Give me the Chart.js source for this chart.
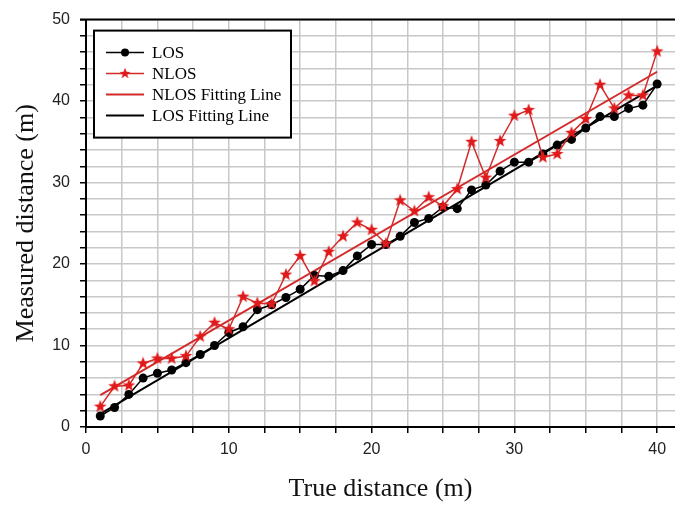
<!DOCTYPE html>
<html><head><meta charset="utf-8">
<script src="https://cdn.jsdelivr.net/npm/chart.js@4"></script>
<style>html,body{margin:0;padding:0;background:#fff}canvas{display:block}</style>
</head><body>
<canvas id="c" width="675" height="508"></canvas>
<script>
// True distance (m)
const trueDistance = [1,2,3,4,5,6,7,8,9,10,11,12,13,14,15,16,17,18,19,20,21,22,23,24,25,26,27,28,29,30,31,32,33,34,35,36,37,38,39,40];
// Measured distance, LOS (m)
const losValues = [1.35,2.4,4.0,6.0,6.6,7.0,7.9,8.9,10.0,11.6,12.3,14.4,15.0,15.9,16.9,18.6,18.5,19.2,21.0,22.4,22.4,23.4,25.1,25.6,27.0,26.8,29.1,29.7,31.4,32.5,32.5,33.5,34.6,35.3,36.7,38.1,38.1,39.1,39.5,42.1];
// Measured distance, NLOS (m)
const nlosValues = [2.5,5.0,5.1,7.8,8.4,8.4,8.7,11.1,12.8,12.0,16.0,15.2,15.1,18.7,21.0,17.9,21.5,23.4,25.1,24.2,22.5,27.8,26.5,28.2,27.1,29.2,35.0,30.6,35.1,38.2,38.9,33.1,33.5,36.1,37.8,42.0,39.1,40.7,40.7,46.1];
// Fitting line end points
const fitX = [1, 40];
const nlosFit = [3.9, 43.6];
const losFit = [1.6, 41.9];
// Axis tick labels
const xTickLabels = [0, 10, 20, 30, 40];
const yTickLabels = [0, 10, 20, 30, 40, 50];

const RED = '#d42a2a';
const STAR = '#e01a1a';

function makeStar(size, color) {
  const cv = document.createElement('canvas');
  cv.width = size; cv.height = size;
  const g = cv.getContext('2d');
  const cx = size / 2, cy = size / 2, R = size / 2 - 0.3, r = R * 0.42;
  g.beginPath();
  for (let i = 0; i < 10; i++) {
    const rad = i % 2 === 0 ? R : r;
    const a = -Math.PI / 2 + i * Math.PI / 5;
    const px = cx + rad * Math.cos(a), py = cy + rad * Math.sin(a);
    if (i === 0) g.moveTo(px, py); else g.lineTo(px, py);
  }
  g.closePath();
  g.fillStyle = color;
  g.fill();
  return cv;
}
const starImg = makeStar(14, STAR);

const pts = (xs, ys) => xs.map((x, i) => ({x: x, y: ys[i]}));

const boxLegend = {
  id: 'boxLegend',
  afterDraw(chart) {
    const ctx = chart.ctx;
    const ca = chart.chartArea;
    ctx.save();
    ctx.strokeStyle = '#000';
    ctx.lineWidth = 2;
    ctx.beginPath();
    ctx.moveTo(ca.left - 6, ca.top);
    ctx.lineTo(ca.right, ca.top);
    ctx.stroke();
    const bx = ca.left + 8, by = ca.top + 11, bw = 197, bh = 107;
    ctx.fillStyle = '#fff';
    ctx.fillRect(bx, by, bw, bh);
    ctx.lineWidth = 2;
    ctx.strokeStyle = '#000';
    ctx.strokeRect(bx, by, bw, bh);
    ctx.font = '17px "Liberation Serif", "Times New Roman", serif';
    ctx.textBaseline = 'middle';
    ctx.textAlign = 'left';
    chart.data.datasets.forEach((ds, k) => {
      const yy = by + 22 + k * 21;
      ctx.strokeStyle = ds.borderColor;
      ctx.lineWidth = ds.borderWidth;
      ctx.beginPath();
      ctx.moveTo(bx + 12, yy);
      ctx.lineTo(bx + 50, yy);
      ctx.stroke();
      if (ds.pointRadius > 0) {
        if (ds.pointStyle === 'circle') {
          ctx.fillStyle = ds.pointBackgroundColor;
          ctx.beginPath();
          ctx.arc(bx + 31, yy, 4, 0, Math.PI * 2);
          ctx.fill();
        } else {
          ctx.drawImage(ds.pointStyle, bx + 31 - 6, yy - 6, 12, 12);
        }
      }
      ctx.fillStyle = '#000';
      ctx.fillText(ds.label, bx + 58, yy + 1);
    });
    ctx.restore();
  }
};

new Chart(document.getElementById('c'), {
  type: 'scatter',
  data: {
    datasets: [
      { label: 'LOS', data: pts(trueDistance, losValues), showLine: true,
        borderColor: '#000', borderWidth: 1.5, pointStyle: 'circle', pointRadius: 4.5,
        pointBackgroundColor: '#000', pointBorderColor: '#000', pointBorderWidth: 0, order: 1 },
      { label: 'NLOS', data: pts(trueDistance, nlosValues), showLine: true,
        borderColor: RED, borderWidth: 1.5, pointStyle: starImg, pointRadius: 6,
        pointBackgroundColor: STAR, order: 0 },
      { label: 'NLOS Fitting Line', data: pts(fitX, nlosFit), showLine: true,
        borderColor: RED, borderWidth: 2, pointRadius: 0, order: 2 },
      { label: 'LOS Fitting Line', data: pts(fitX, losFit), showLine: true,
        borderColor: '#000', borderWidth: 2, pointRadius: 0, order: 3 }
    ]
  },
  options: {
    responsive: false,
    animation: false,
    layout: { autoPadding: false, padding: { top: 8, right: 0, left: 0, bottom: 0 } },
    plugins: { legend: { display: false }, tooltip: { enabled: false } },
    scales: {
      x: {
        type: 'linear', min: 0, max: 41.25,
        afterFit(s) { s.height = 81; s.paddingRight = 0; },
        border: { color: '#000', width: 2 },
        grid: { color: '#c8c8c8', lineWidth: 1.5, tickColor: '#000', tickLength: 6, drawTicks: true },
        ticks: { stepSize: 2.5, includeBounds: false, autoSkip: false, maxRotation: 0, padding: 7, color: '#222',
          font: { family: '"Liberation Sans", Arial, sans-serif', size: 16 },
          callback: v => xTickLabels.includes(v) ? String(v) : '' },
        title: { display: true, text: 'True distance (m)', color: '#111',
          font: { family: '"Liberation Serif", "Times New Roman", serif', size: 26 },
          padding: { top: 0, bottom: 3 } }
      },
      y: {
        type: 'linear', min: 0, max: 50,
        afterFit(s) { s.width = 86; },
        border: { color: '#000', width: 2 },
        grid: { color: '#c8c8c8', lineWidth: 1.5, tickColor: '#000', tickLength: 6, drawTicks: true },
        ticks: { stepSize: 2, autoSkip: false, padding: 10, color: '#222',
          font: { family: '"Liberation Sans", Arial, sans-serif', size: 16 },
          callback: v => yTickLabels.includes(v) ? String(v) : '' },
        title: { display: true, text: 'Measured distance (m)', color: '#111',
          font: { family: '"Liberation Serif", "Times New Roman", serif', size: 26 },
          padding: { top: 11, bottom: 0 } }
      }
    }
  },
  plugins: [boxLegend]
});
</script>
</body></html>
